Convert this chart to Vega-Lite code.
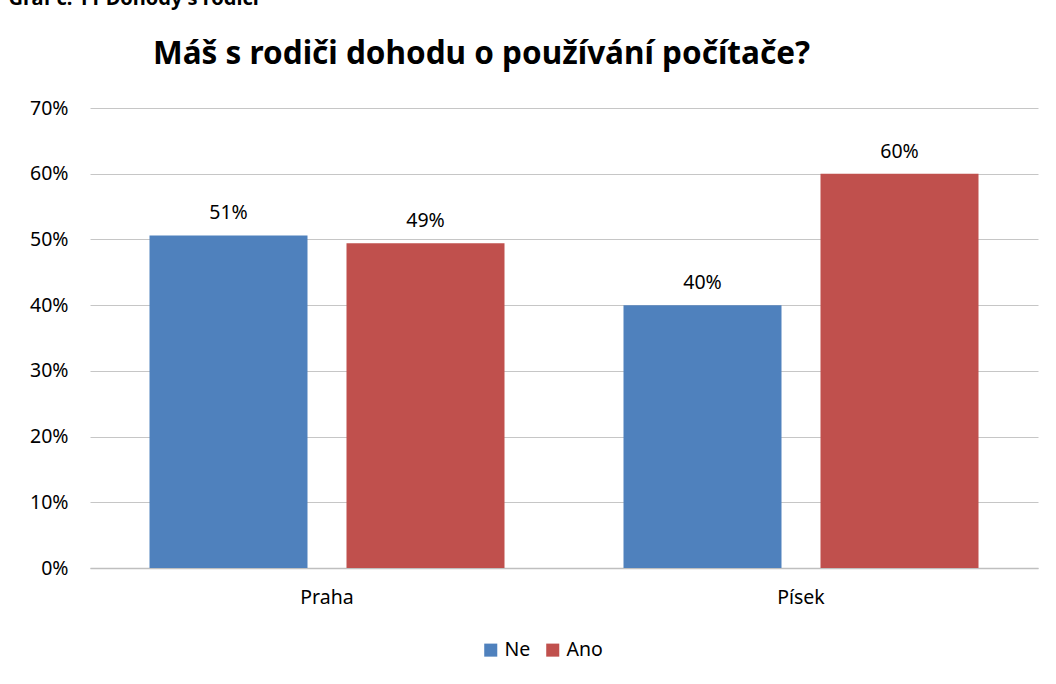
{
  "$schema": "https://vega.github.io/schema/vega-lite/v6.json",
  "autosize": {"type": "none"},
  "padding": {"left": 90, "top": 108, "right": 18, "bottom": 116},
  "width": 948,
  "height": 460,
  "background": "white",
  "title": {
    "text": "Máš s rodiči dohodu o používání počítače?",
    "font": "Noto Sans",
    "fontSize": 31.5,
    "fontWeight": "bold",
    "color": "#000000",
    "anchor": "start",
    "dx": 145,
    "offset": 0,
    "dy": 107,
    "baseline": "alphabetic"
  },
  "data": {
    "values": [
      {"mesto": "Praha", "odpoved": "Ne", "podil": 0.506},
      {"mesto": "Praha", "odpoved": "Ano", "podil": 0.494},
      {"mesto": "Písek", "odpoved": "Ne", "podil": 0.40},
      {"mesto": "Písek", "odpoved": "Ano", "podil": 0.60}
    ]
  },
  "config": {
    "view": {"stroke": null},
    "font": "Noto Sans"
  },
  "encoding": {
    "x": {
      "field": "mesto",
      "type": "nominal",
      "sort": ["Praha", "Písek"],
      "scale": {"paddingInner": 0, "paddingOuter": 0},
      "axis": {
        "title": null,
        "labelAngle": 0,
        "labelFont": "Noto Sans",
        "labelFontSize": 19.5,
        "labelColor": "#000000",
        "labelPadding": 20,
        "ticks": false,
        "domain": true,
        "domainColor": "#bfbfbf",
        "domainWidth": 1.5
      }
    },
    "xOffset": {
      "field": "odpoved",
      "type": "nominal",
      "sort": ["Ne", "Ano"],
      "scale": {"paddingInner": 0.198, "paddingOuter": 0.302}
    },
    "y": {
      "field": "podil",
      "type": "quantitative",
      "scale": {"domain": [0, 0.7], "nice": false},
      "axis": {
        "format": ".0%",
        "values": [0, 0.1, 0.2, 0.3, 0.4, 0.5, 0.6, 0.7],
        "labelOverlap": false,
        "title": "Graf č. 11 Dohody s rodiči",
        "titleAngle": 0,
        "titleAlign": "left",
        "titleBaseline": "alphabetic",
        "titleX": -82,
        "titleY": -104,
        "titleFont": "Noto Sans",
        "titleFontSize": 20,
        "titleFontWeight": "bold",
        "titleColor": "#000000",
        "labelFont": "Noto Sans",
        "labelFontSize": 19.5,
        "labelColor": "#000000",
        "labelPadding": 22,
        "ticks": false,
        "domain": false,
        "grid": true,
        "gridColor": "#c6c6c6",
        "gridWidth": 1
      }
    }
  },
  "layer": [
    {
      "mark": {"type": "bar"},
      "encoding": {
        "color": {
          "field": "odpoved",
          "type": "nominal",
          "sort": ["Ne", "Ano"],
          "scale": {"domain": ["Ne", "Ano"], "range": ["#4F81BD", "#C0504D"]},
          "legend": {
            "title": null,
            "orient": "none",
            "legendX": 391,
            "legendY": 532,
            "direction": "horizontal",
            "symbolType": "square",
            "symbolSize": 170,
            "symbolStrokeWidth": 0,
            "labelFont": "Noto Sans",
            "labelFontSize": 19.5,
            "labelColor": "#000000",
            "labelOffset": 4,
            "columnPadding": 12
          }
        }
      }
    },
    {
      "mark": {"type": "text", "baseline": "bottom", "dy": -12, "font": "Noto Sans", "fontSize": 19.5, "color": "#000000"},
      "encoding": {
        "text": {"field": "podil", "type": "quantitative", "format": ".0%"}
      }
    }
  ]
}
